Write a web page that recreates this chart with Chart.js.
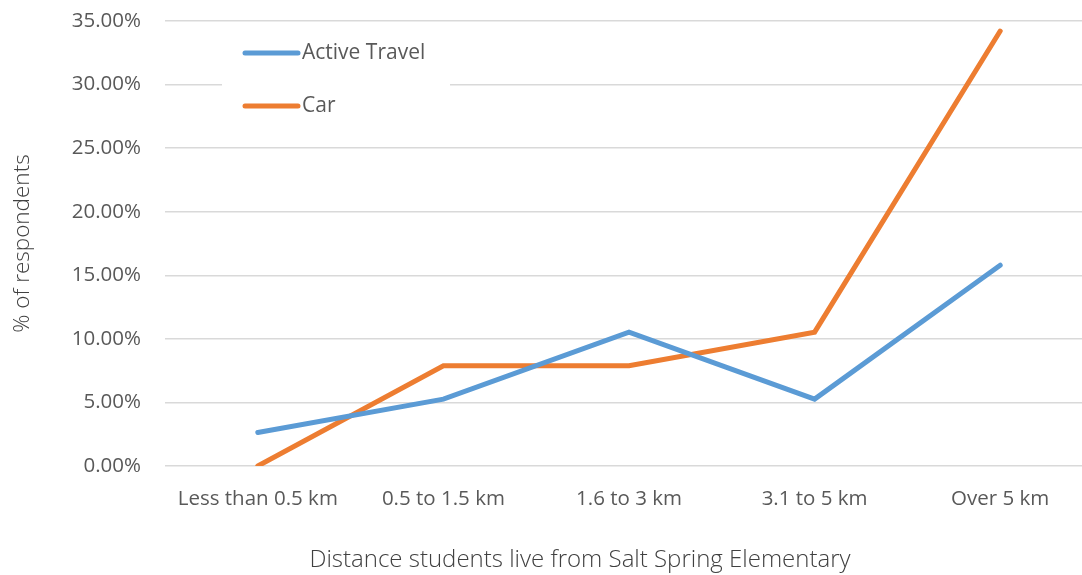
<!DOCTYPE html>
<html>
<head>
<meta charset="utf-8">
<script src="https://cdn.jsdelivr.net/npm/chart.js@4.4.1/dist/chart.umd.min.js"></script>
<style>
  html, body { margin: 0; padding: 0; background: #fff; overflow: hidden; }
  #wrap { width: 1093px; height: 575px; position: relative; }
</style>
</head>
<body>
<div id="wrap"><canvas id="myChart"></canvas></div>
<script>
  // data
  const categories = ['Less than 0.5 km', '0.5 to 1.5 km', '1.6 to 3 km', '3.1 to 5 km', 'Over 5 km'];
  const activeTravel = [2.63, 5.26, 10.53, 5.26, 15.79];
  const car = [0, 7.89, 7.89, 10.53, 34.21];
  const xTitle = 'Distance students live from Salt Spring Elementary';

  const textColor = '#595959';
  const fontFamily = "'Open Sans', 'Noto Sans', sans-serif";

  // legend drawn inside the plot, and the x title centred on the whole picture
  const insideLegend = {
    id: 'insideLegend',
    afterDraw(chart) {
      const ctx = chart.ctx;
      ctx.save();
      ctx.fillStyle = '#fff';
      ctx.fillRect(222, 28, 228, 102);
      chart.data.datasets.forEach((ds, i) => {
        const y = 53 + i * 53;
        ctx.strokeStyle = ds.borderColor;
        ctx.lineWidth = 5;
        ctx.lineCap = 'round';
        ctx.beginPath();
        ctx.moveTo(245, y);
        ctx.lineTo(298, y);
        ctx.stroke();
        ctx.fillStyle = textColor;
        ctx.font = '21px ' + fontFamily;
        ctx.textBaseline = 'middle';
        ctx.fillText(ds.label, 302, y);
      });
      ctx.fillStyle = '#404040';
      ctx.font = '300 24px ' + fontFamily;
      ctx.textAlign = 'center';
      ctx.textBaseline = 'middle';
      ctx.fillText(xTitle, 580, 560);
      ctx.restore();
    }
  };

  const config = {
    type: 'line',
    data: {
      labels: categories,
      datasets: [{
        label: 'Active Travel',
        data: activeTravel,
        borderColor: '#5b9bd5',
        backgroundColor: '#5b9bd5',
        borderWidth: 5,
        pointRadius: 0,
        borderCapStyle: 'round',
        tension: 0
      }, {
        label: 'Car',
        data: car,
        borderColor: '#ed7d31',
        backgroundColor: '#ed7d31',
        borderWidth: 5,
        pointRadius: 0,
        borderCapStyle: 'round',
        tension: 0
      }]
    },
    options: {
      responsive: true,
      maintainAspectRatio: false,
      animation: false,
      layout: { padding: 0 },
      plugins: {
        legend: { display: false },
        tooltip: { enabled: false }
      },
      scales: {
        x: {
          offset: true,
          grid: { display: false },
          border: { display: false },
          ticks: { color: textColor, font: { family: fontFamily, size: 20.5 }, padding: 13, maxRotation: 0 },
          afterFit(scale) {
            scale.height = 109;
            scale.paddingLeft = 0;
            scale.paddingRight = 0;
          }
        },
        y: {
          min: 0,
          max: 35,
          ticks: {
            stepSize: 5,
            color: textColor,
            font: { family: fontFamily, size: 20.5 },
            padding: 24,
            callback: v => v.toFixed(2) + '%'
          },
          grid: { color: '#d9d9d9', lineWidth: 1.5, drawTicks: false },
          border: { display: false },
          title: {
            display: true,
            text: '% of respondents',
            color: '#404040',
            font: { family: fontFamily, size: 22.5, weight: 300 },
            padding: { top: 9, bottom: 34 }
          },
          afterFit(scale) {
            scale.width = 165;
            scale.paddingTop = 21;
            scale.paddingBottom = 0;
          }
        }
      }
    },
    plugins: [insideLegend]
  };

  const myChart = new Chart(document.getElementById('myChart'), config);
</script>
</body>
</html>
